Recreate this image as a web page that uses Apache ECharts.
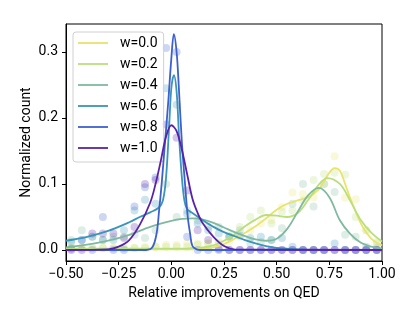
<!DOCTYPE html>
<html>
<head>
<meta charset="utf-8">
<script src="https://cdn.jsdelivr.net/npm/echarts@6/dist/echarts.min.js"></script>
<style>
html,body{margin:0;padding:0;background:#fff;}
#chart{width:415px;height:311px;}
</style>
</head>
<body>
<div id="chart"></div>
<script>
// ---- data ----
const seriesNames = ['w=0.0','w=0.2','w=0.4','w=0.6','w=0.8','w=1.0'];
const colors = ['#e8e36a','#b9df7c','#80b9a0','#3a95b8','#3e60cf','#5a22a8'];

// histogram bin centres (relative improvement)
const binCenters = [-0.475,-0.425,-0.375,-0.325,-0.275,-0.225,-0.175,-0.125,-0.075,-0.025,
  0.025,0.075,0.125,0.175,0.225,0.275,0.325,0.375,0.425,0.475,
  0.525,0.575,0.625,0.675,0.725,0.775,0.825,0.875,0.925,0.975];

const hist00 = [0.003,0.003,0.003,0.003,0.003,0.003,0.003,0.005,0.005,0.008,0.008,0.01,0.01,0.01,0.01,0.012,0.02,0.03,0.04,0.045,0.065,0.087,0.085,0.08,0.1,0.142,0.079,0.077,0.03,0.01];
const hist02 = [0.003,0.003,0.003,0.003,0.003,0.003,0.003,0.003,0.005,0.005,0.005,0.005,0.008,0.01,0.012,0.022,0.035,0.05,0.06,0.04,0.058,0.06,0.075,0.106,0.115,0.117,0.114,0.05,0.03,0.012];
const hist04 = [0.015,0.03,0.02,0.015,0.02,0.02,0.023,0.018,0.03,0.1,0.05,0.06,0.045,0.035,0.035,0.02,0.03,0.01,0.012,0.015,0.033,0.07,0.1,0.066,0.1,0.088,0.023,0.02,0.005,0.003];
const hist06 = [0.012,0.015,0.02,0.015,0.015,0.03,0.06,0.076,0.07,0.245,0.22,0.055,0.04,0.03,0.025,0.02,0.022,0.018,0.02,0.015,0.018,0.005,0.0,0.0,0.0,0.01,0.0,0.0,0.0,0.0];
const hist08 = [0.002,0.015,0.0,0.05,0.0,0.0,0.066,0.095,0.11,0.306,0.3,0.02,0.0,0.0,0.0,0.0,0.0,0.0,0.0,0.0,0.0,0.0,0.0,0.0,0.0,0.0,0.0,0.0,0.0,0.0];
const hist10 = [0.0,0.0,0.025,0.025,0.025,0.018,0.035,0.1,0.106,0.19,0.17,0.09,0.03,0.015,0.002,0.0,0.0,0.0,0.0,0.0,0.0,0.0,0.0,0.0,0.0,0.0,0.0,0.0,0.0,0.0];

// density curves
const kde00X = [-0.5,-0.3,-0.1,0.1,0.15,0.2,0.25,0.3,0.35,0.4,0.45,0.5,0.55,0.6,0.65,0.7,0.725,0.75,0.775,0.8,0.825,0.85,0.9,0.95,1.0];
const kde00Y = [0.001,0.001,0.001,0.001,0.002,0.004,0.009,0.017,0.026,0.036,0.048,0.061,0.07,0.075,0.08,0.092,0.104,0.117,0.124,0.12,0.1,0.078,0.04,0.017,0.007];

const kde02X = [-0.5,-0.3,-0.1,0.05,0.1,0.15,0.2,0.25,0.3,0.35,0.4,0.45,0.5,0.55,0.6,0.65,0.7,0.74,0.8,0.85,0.9,0.95,1.0];
const kde02Y = [0.002,0.002,0.002,0.002,0.003,0.004,0.007,0.014,0.024,0.036,0.046,0.053,0.052,0.05,0.056,0.076,0.099,0.109,0.1,0.074,0.045,0.026,0.013];

const kde04X = [-0.5,-0.4,-0.3,-0.2,-0.1,0,0.05,0.1,0.15,0.2,0.25,0.3,0.35,0.4,0.45,0.5,0.55,0.6,0.65,0.7,0.75,0.8,0.85,0.9,0.95,1.0];
const kde04Y = [0.004,0.008,0.014,0.023,0.035,0.044,0.047,0.048,0.046,0.041,0.034,0.027,0.021,0.016,0.014,0.017,0.032,0.058,0.083,0.094,0.08,0.045,0.024,0.011,0.005,0.002];

const kde06X = [-0.5,-0.4,-0.3,-0.2,-0.15,-0.1,-0.06,-0.04,-0.025,-0.01,0.0,0.012,0.025,0.037,0.05,0.062,0.075,0.1,0.15,0.2,0.25,0.3,0.35,0.4,0.45,0.5,0.6,0.7,1.0];
const kde06Y = [0.014,0.02,0.029,0.042,0.05,0.057,0.064,0.075,0.11,0.19,0.245,0.265,0.24,0.17,0.11,0.075,0.062,0.056,0.045,0.035,0.027,0.021,0.015,0.01,0.006,0.003,0.001,0.0,0.0];

const kde08X = [-0.5,-0.12,-0.09,-0.07,-0.058,-0.046,-0.03,-0.014,0.0,0.012,0.025,0.035,0.05,0.065,0.078,0.089,0.1,0.12,0.14,1.0];
const kde08Y = [0,0,0.004,0.025,0.06,0.1,0.163,0.227,0.29,0.327,0.3,0.25,0.163,0.1,0.05,0.025,0.006,0.001,0,0];

const kde10X = [-0.5,-0.3,-0.25,-0.2,-0.15,-0.1,-0.075,-0.05,-0.025,0.0,0.025,0.05,0.075,0.1,0.125,0.15,0.2,0.25,0.3,1.0];
const kde10Y = [0,0.001,0.005,0.015,0.038,0.072,0.1,0.135,0.172,0.189,0.18,0.152,0.115,0.078,0.056,0.04,0.02,0.006,0.001,0];

const xTickStep = 0.25;
const yTicks = [0, 0.1, 0.2, 0.3];

// ---- build ----
const hists = [hist00,hist02,hist04,hist06,hist08,hist10];
const kdeX = [kde00X,kde02X,kde04X,kde06X,kde08X,kde10X];
const kdeY = [kde00Y,kde02Y,kde04Y,kde06Y,kde08Y,kde10Y];

const pair = (xs, ys) => xs.map((x,i) => [x, ys[i]]);
const series = [];
hists.forEach((h, k) => {
  series.push({
    name: 'hist ' + seriesNames[k],
    type: 'scatter',
    data: pair(binCenters, h),
    symbolSize: 8,
    itemStyle: {color: colors[k], opacity: 0.26},
    silent: true,
    z: 1
  });
});
kdeX.forEach((xs, k) => {
  series.push({
    name: seriesNames[k],
    type: 'line',
    data: pair(xs, kdeY[k]),
    symbol: 'none',
    showSymbol: false,
    smooth: 0.35,
    lineStyle: {color: colors[k], width: 1.8},
    itemStyle: {color: colors[k]},
    z: 3 + k
  });
});

// thin horizontal bar icon spanning a 30x14 box
const lineIcon = 'path://M0,0M0,6.1L30,6.1L30,7.9L0,7.9ZM30,14';

const font = 'Roboto, "DejaVu Sans", sans-serif';
const chart = echarts.init(document.getElementById('chart'), null, {renderer: 'canvas'});
chart.setOption({
  animation: false,
  backgroundColor: '#fff',
  textStyle: {fontFamily: font},
  grid: {left: 66, right: 33, top: 24, bottom: 50, show: true, borderColor: '#000', borderWidth: 1, backgroundColor: 'transparent'},
  legend: {
    data: seriesNames.map(n => ({name: n, icon: lineIcon})),
    orient: 'vertical',
    left: 73, top: 32,
    padding: [4, 6, 7, 5],
    itemGap: 7,
    itemWidth: 30,
    itemHeight: 14,
    backgroundColor: 'rgba(255,255,255,0.8)',
    borderColor: '#d0d0d0',
    borderWidth: 1,
    borderRadius: 3,
    textStyle: {fontFamily: font, fontSize: 14, color: '#000', padding: [0,0,0,7]}
  },
  xAxis: {
    type: 'value',
    min: -0.5, max: 1.0, interval: xTickStep,
    name: 'Relative improvements on QED',
    nameLocation: 'middle', nameGap: 25, nameMoveOverlap: false,
    nameTextStyle: {fontFamily: font, fontSize: 14, color: '#000'},
    axisLine: {onZero: false, lineStyle: {color: '#000', width: 1}},
    axisTick: {length: 4, lineStyle: {color: '#000'}},
    axisLabel: {fontFamily: font, fontSize: 14, color: '#000', margin: 6,
      formatter: v => v.toFixed(2).replace('-', '\u2212')},
    splitLine: {show: false}
  },
  yAxis: {
    type: 'value',
    min: -0.0167, max: 0.3424,
    name: 'Normalized count',
    nameLocation: 'middle', nameGap: 33, nameMoveOverlap: false,
    nameTextStyle: {fontFamily: font, fontSize: 14, color: '#000'},
    axisLine: {show: true, onZero: false, lineStyle: {color: '#000', width: 1}},
    axisTick: {show: true, length: 4, customValues: yTicks, lineStyle: {color: '#000'}},
    axisLabel: {fontFamily: font, fontSize: 14, color: '#000', margin: 8, customValues: yTicks,
      formatter: v => v.toFixed(1)},
    splitLine: {show: false}
  },
  series: series
});
</script>
</body>
</html>
